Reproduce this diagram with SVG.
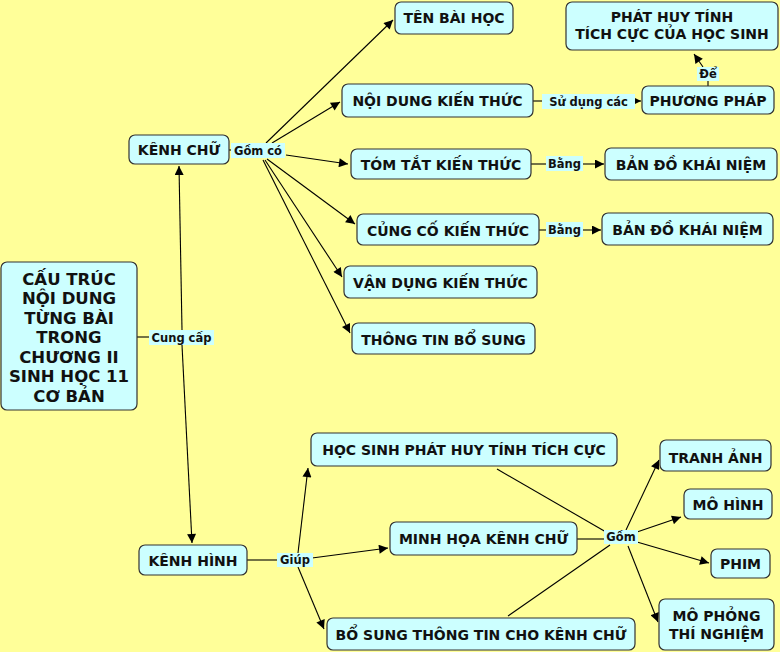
<svg xmlns="http://www.w3.org/2000/svg" width="780" height="652" viewBox="0 0 780 652">
<defs>
<marker id="ah" viewBox="0 0 10 10" refX="10" refY="5" markerWidth="11" markerHeight="9" markerUnits="userSpaceOnUse" orient="auto">
<path d="M0,0 L10,5 L0,10 z" fill="#000"/>
</marker>
<style>
.n rect{fill:#CCFFFF;stroke:#333;stroke-width:1.2}
.n text{font-family:"DejaVu Sans",Verdana,sans-serif;font-weight:bold;font-size:14px;fill:#111;text-anchor:middle;dominant-baseline:central}
.n text.big{font-size:16.5px}
.c line{stroke:#000;stroke-width:1.1}
.a{marker-end:url(#ah)}
.l rect{fill:#CCFFFF;stroke:none}
.l text{font-family:"DejaVu Sans",Verdana,sans-serif;font-weight:bold;font-size:11.5px;fill:#111;text-anchor:middle;dominant-baseline:central}
</style>
</defs>
<rect width="780" height="652" fill="#FFFF99"/>

<g id="connectors" class="c">
<line x1="137" y1="337" x2="150" y2="337"/>
<line class="a" x1="182" y1="330" x2="179" y2="166"/>
<line class="a" x1="182" y1="345" x2="192" y2="543"/>
<line x1="229" y1="150" x2="232" y2="150"/>
<line class="a" x1="266" y1="143" x2="393" y2="20"/>
<line class="a" x1="272" y1="143" x2="340" y2="102"/>
<line class="a" x1="286" y1="155" x2="348" y2="164"/>
<line class="a" x1="267" y1="159" x2="355" y2="224"/>
<line class="a" x1="265" y1="160" x2="342" y2="277"/>
<line class="a" x1="263" y1="160" x2="350" y2="333"/>
<line x1="533" y1="101" x2="543" y2="101"/>
<line class="a" x1="634" y1="101" x2="641" y2="101"/>
<line x1="708" y1="86" x2="708" y2="81"/>
<line class="a" x1="703" y1="67" x2="694" y2="54"/>
<line x1="531" y1="164" x2="547" y2="164"/>
<line class="a" x1="582" y1="164" x2="604" y2="164"/>
<line x1="539" y1="230" x2="547" y2="230"/>
<line class="a" x1="582" y1="230" x2="601" y2="230"/>
<line x1="247" y1="560" x2="278" y2="560"/>
<line class="a" x1="298" y1="553" x2="308" y2="468"/>
<line class="a" x1="312" y1="558" x2="388" y2="548"/>
<line class="a" x1="298" y1="567" x2="324" y2="629"/>
<line x1="497" y1="469" x2="606" y2="532"/>
<line x1="577" y1="539" x2="605" y2="539"/>
<line x1="508" y1="616" x2="610" y2="545"/>
<line class="a" x1="626" y1="530" x2="659" y2="460"/>
<line class="a" x1="637" y1="532" x2="681" y2="517"/>
<line class="a" x1="637" y1="542" x2="709" y2="563"/>
<line class="a" x1="628" y1="546" x2="658" y2="622"/>
</g>

<g id="labels" class="l">
<g id="lbl-gomco"><rect x="231" y="143" width="54" height="15"/><text x="258" y="151">Gồm có</text></g>
<g id="lbl-cungcap"><rect x="149" y="330" width="65" height="15"/><text x="181.5" y="337.5">Cung cấp</text></g>
<g id="lbl-sudung"><rect x="542" y="94" width="93" height="15"/><text x="588.5" y="101.5">Sử dụng các</text></g>
<g id="lbl-de"><rect x="697" y="67" width="22" height="14"/><text x="708" y="74">Để</text></g>
<g id="lbl-bang1"><rect x="546" y="156" width="37" height="15"/><text x="564.5" y="163.5">Bằng</text></g>
<g id="lbl-bang2"><rect x="546" y="222" width="37" height="15"/><text x="564.5" y="229.5">Bằng</text></g>
<g id="lbl-giup"><rect x="277" y="553" width="36" height="14"/><text x="295" y="560">Giúp</text></g>
<g id="lbl-gom"><rect x="604" y="530" width="34" height="14"/><text x="621" y="537">Gồm</text></g>
</g>

<g id="n-main" class="n"><rect x="1" y="262" width="136" height="148" rx="6"/>
<text class="big" x="69" y="279">CẤU TRÚC</text>
<text class="big" x="69" y="298.5">NỘI DUNG</text>
<text class="big" x="69" y="318">TỪNG BÀI</text>
<text class="big" x="69" y="337.5">TRONG</text>
<text class="big" x="69" y="357">CHƯƠNG II</text>
<text class="big" x="69" y="376.5">SINH HỌC 11</text>
<text class="big" x="69" y="396">CƠ BẢN</text>
</g>
<g id="n-kenhchu" class="n"><rect x="129" y="135" width="100" height="29" rx="6"/><text x="179" y="150">KÊNH CHỮ</text></g>
<g id="n-tenbai" class="n"><rect x="395" y="2" width="118" height="32" rx="6"/><text x="454" y="18">TÊN BÀI HỌC</text></g>
<g id="n-phathuy" class="n"><rect x="566" y="2" width="212" height="48" rx="6"/><text x="672" y="17">PHÁT HUY TÍNH</text><text x="672" y="33.5">TÍCH CỰC CỦA HỌC SINH</text></g>
<g id="n-noidung" class="n"><rect x="342" y="84" width="191" height="33" rx="6"/><text x="437.5" y="101">NỘI DUNG KIẾN THỨC</text></g>
<g id="n-phuongphap" class="n"><rect x="642" y="86" width="132" height="28" rx="6"/><text x="708" y="100.5">PHƯƠNG PHÁP</text></g>
<g id="n-tomtat" class="n"><rect x="351" y="149" width="180" height="30" rx="6"/><text x="441" y="165">TÓM TẮT KIẾN THỨC</text></g>
<g id="n-bando1" class="n"><rect x="605" y="148" width="172" height="32" rx="6"/><text x="691" y="164.5">BẢN ĐỒ KHÁI NIỆM</text></g>
<g id="n-cungco" class="n"><rect x="357" y="214" width="182" height="31" rx="6"/><text x="448" y="231">CỦNG CỐ KIẾN THỨC</text></g>
<g id="n-bando2" class="n"><rect x="602" y="213" width="171" height="32" rx="6"/><text x="687.5" y="229.5">BẢN ĐỒ KHÁI NIỆM</text></g>
<g id="n-vandung" class="n"><rect x="344" y="266" width="193" height="32" rx="6"/><text x="440.5" y="282.5">VẬN DỤNG KIẾN THỨC</text></g>
<g id="n-thongtin" class="n"><rect x="352" y="323" width="183" height="31" rx="6"/><text x="443.5" y="339.5">THÔNG TIN BỔ SUNG</text></g>
<g id="n-kenhhinh" class="n"><rect x="139" y="545" width="108" height="30" rx="6"/><text x="193" y="561">KÊNH HÌNH</text></g>
<g id="n-hocsinh" class="n"><rect x="311" y="433" width="306" height="33" rx="6"/><text x="464" y="450">HỌC SINH PHÁT HUY TÍNH TÍCH CỰC</text></g>
<g id="n-minhhoa" class="n"><rect x="390" y="522" width="187" height="33" rx="6"/><text x="483.5" y="539">MINH HỌA KÊNH CHỮ</text></g>
<g id="n-bosung" class="n"><rect x="327" y="618" width="308" height="32" rx="6"/><text x="481" y="635">BỔ SUNG THÔNG TIN CHO KÊNH CHỮ</text></g>
<g id="n-tranh" class="n"><rect x="660" y="440" width="111" height="31" rx="6"/><text x="715.5" y="458">TRANH ẢNH</text></g>
<g id="n-mohinh" class="n"><rect x="684" y="489" width="88" height="30" rx="6"/><text x="728" y="505">MÔ HÌNH</text></g>
<g id="n-phim" class="n"><rect x="711" y="549" width="59" height="29" rx="6"/><text x="740.5" y="564">PHIM</text></g>
<g id="n-mophong" class="n"><rect x="659" y="599" width="115" height="51" rx="6"/><text x="716.5" y="616">MÔ PHỎNG</text><text x="716.5" y="634">THÍ NGHIỆM</text></g>
</svg>
